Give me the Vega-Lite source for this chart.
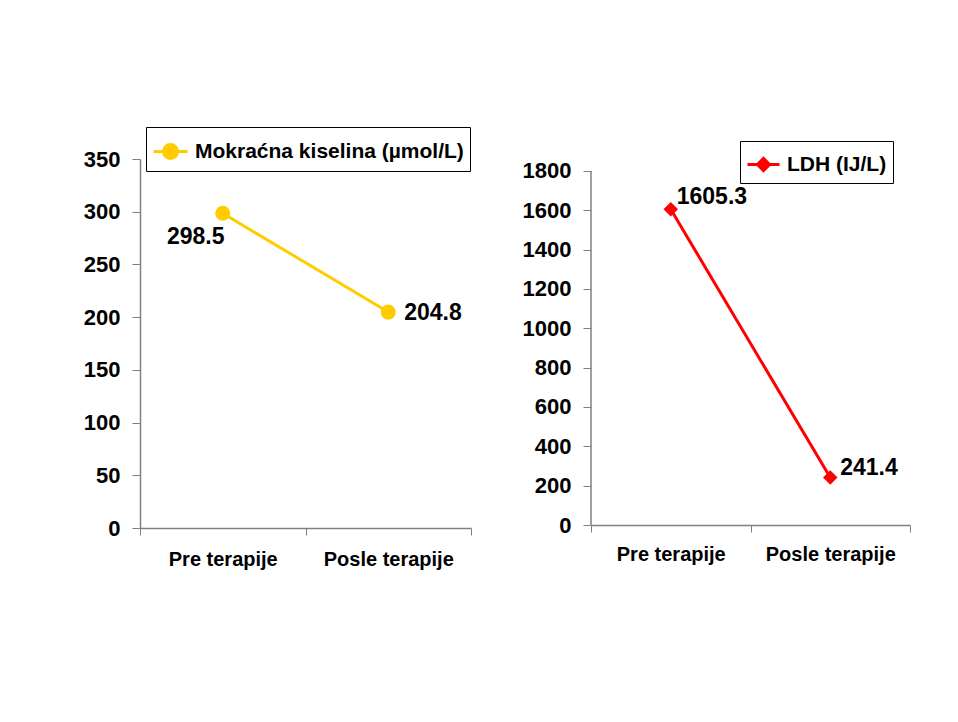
{
  "$schema": "https://vega.github.io/schema/vega-lite/v6.json",
  "padding": {"left": 83, "top": 126, "right": 5, "bottom": 5},
  "background": "white",
  "spacing": 50,
  "config": {
    "view": {"stroke": null},
    "font": "Liberation Sans",
    "axis": {
      "domainColor": "#808080",
      "domainWidth": 1.5,
      "tickColor": "#808080",
      "tickWidth": 1,
      "labelColor": "#000000",
      "labelFont": "Liberation Sans",
      "labelFontWeight": "bold",
      "grid": false,
      "title": null
    },
    "legend": {
      "labelFont": "Liberation Sans",
      "labelFontWeight": "bold",
      "labelColor": "#000000",
      "labelLimit": 500
    }
  },
  "hconcat": [
    {
      "width": 331,
      "height": 369,
      "data": {
        "values": [
          {"faza": "Pre terapije", "vrednost": 298.5, "serija": "Mokraćna kiselina (µmol/L)"},
          {"faza": "Posle terapije", "vrednost": 204.8, "serija": "Mokraćna kiselina (µmol/L)"}
        ]
      },
      "encoding": {
        "x": {
          "field": "faza",
          "type": "nominal",
          "sort": ["Pre terapije", "Posle terapije"],
          "scale": {"type": "band", "paddingInner": 0, "paddingOuter": 0},
          "axis": {"labelAngle": 0, "tickBand": "extent", "tickSize": 7, "labelPadding": 14, "labelFontSize": 20}
        },
        "y": {
          "field": "vrednost",
          "type": "quantitative",
          "scale": {"domain": [0, 350], "nice": false, "zero": true},
          "axis": {"values": [0, 50, 100, 150, 200, 250, 300, 350], "format": "d", "tickSize": 8, "labelPadding": 12, "labelFontSize": 22}
        }
      },
      "layer": [
        {"mark": {"type": "line", "color": "#FFCC00", "strokeWidth": 3}},
        {
          "mark": {"type": "point", "shape": "circle", "filled": true, "size": 225, "opacity": 1},
          "encoding": {
            "color": {
              "field": "serija",
              "type": "nominal",
              "scale": {"range": ["#FFCC00"]},
              "legend": {
                "orient": "none",
                "legendX": 6,
                "legendY": -32,
                "title": null,
                "strokeColor": "#000000",
                "padding": 6,
                "symbolType": "M-1,0H1M-0.41,0A0.41,0.41,0,1,1,0.41,0A0.41,0.41,0,1,1,-0.41,0Z",
                "symbolSize": 1156,
                "symbolStrokeWidth": 3,
                "symbolStrokeColor": "#FFCC00",
                "symbolFillColor": "#FFCC00",
                "labelFontSize": 21,
                "labelOffset": 6
              }
            }
          }
        },
        {
          "transform": [{"filter": "datum.faza === 'Pre terapije'"}],
          "mark": {"type": "text", "fontSize": 23, "fontWeight": "bold", "color": "#000000", "align": "center", "baseline": "middle", "dx": -27, "dy": 24},
          "encoding": {"text": {"field": "vrednost", "type": "quantitative", "format": ".1f"}}
        },
        {
          "transform": [{"filter": "datum.faza === 'Posle terapije'"}],
          "mark": {"type": "text", "fontSize": 23, "fontWeight": "bold", "color": "#000000", "align": "left", "baseline": "middle", "dx": 16, "dy": 1},
          "encoding": {"text": {"field": "vrednost", "type": "quantitative", "format": ".1f"}}
        }
      ]
    },
    {
      "width": 319,
      "height": 366,
      "data": {
        "values": [
          {"faza": "Pre terapije", "vrednost": 1605.3, "serija": "LDH (IJ/L)"},
          {"faza": "Posle terapije", "vrednost": 241.4, "serija": "LDH (IJ/L)"}
        ]
      },
      "encoding": {
        "x": {
          "field": "faza",
          "type": "nominal",
          "sort": ["Pre terapije", "Posle terapije"],
          "scale": {"type": "band", "paddingInner": 0, "paddingOuter": 0},
          "axis": {"labelAngle": 0, "tickBand": "extent", "tickSize": 7, "labelPadding": 12, "labelFontSize": 20}
        },
        "y": {
          "field": "vrednost",
          "type": "quantitative",
          "scale": {"domain": [0, 1861], "nice": false, "zero": true},
          "axis": {"values": [0, 200, 400, 600, 800, 1000, 1200, 1400, 1600, 1800], "format": "d", "domain": false, "tickSize": 8, "labelPadding": 12, "labelFontSize": 22}
        }
      },
      "layer": [
        {
          "transform": [{"filter": "datum.faza === 'Pre terapije'"}],
          "mark": {"type": "rule", "color": "#808080", "strokeWidth": 1.5},
          "encoding": {
            "x": {"datum": "Pre terapije", "type": "nominal", "bandPosition": 0},
            "y": {"datum": 0, "type": "quantitative"},
            "y2": {"datum": 1800}
          }
        },
        {"mark": {"type": "line", "color": "#FF0000", "strokeWidth": 3}},
        {
          "mark": {"type": "point", "shape": "diamond", "filled": true, "size": 210, "opacity": 1},
          "encoding": {
            "color": {
              "field": "serija",
              "type": "nominal",
              "scale": {"range": ["#FF0000"]},
              "legend": {
                "orient": "none",
                "legendX": 149,
                "legendY": -18,
                "title": null,
                "strokeColor": "#000000",
                "padding": 6,
                "symbolType": "M-1,0H1M-0.38,0L0,-0.38L0.38,0L0,0.38Z",
                "symbolSize": 1024,
                "symbolStrokeWidth": 3,
                "symbolStrokeColor": "#FF0000",
                "symbolFillColor": "#FF0000",
                "labelFontSize": 21,
                "labelOffset": 6
              }
            }
          }
        },
        {
          "transform": [{"filter": "datum.faza === 'Pre terapije'"}],
          "mark": {"type": "text", "fontSize": 23, "fontWeight": "bold", "color": "#000000", "align": "left", "baseline": "middle", "dx": 6, "dy": -12},
          "encoding": {"text": {"field": "vrednost", "type": "quantitative", "format": ".1f"}}
        },
        {
          "transform": [{"filter": "datum.faza === 'Posle terapije'"}],
          "mark": {"type": "text", "fontSize": 23, "fontWeight": "bold", "color": "#000000", "align": "left", "baseline": "middle", "dx": 10, "dy": -10},
          "encoding": {"text": {"field": "vrednost", "type": "quantitative", "format": ".1f"}}
        }
      ]
    }
  ],
  "resolve": {"scale": {"color": "independent", "x": "independent", "y": "independent"}}
}
